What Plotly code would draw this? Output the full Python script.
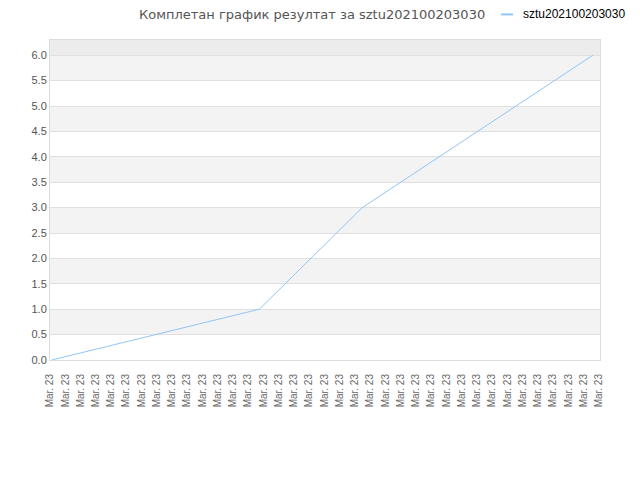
import plotly.graph_objects as go

# results over time (x in label-slot units)
point_x = [0.11, 13.73, 20.48, 35.6]
point_y = [0.0, 1.0, 3.0, 6.0]

tick_pos = list(range(37))
tick_text = ["Mar. 23"] * 37

series_name = "sztu202100203030"
title_text = "Комплетан график резултат за sztu202100203030"
line_color = "#90c6f6"

fig = go.Figure()

fig.add_trace(go.Scatter(
    x=point_x, y=point_y, mode="lines", name=series_name,
    line=dict(color=line_color, width=1), showlegend=False,
))

# alternating bands
band_starts = [0.5, 1.5, 2.5, 3.5, 4.5, 5.5]
for b in band_starts:
    fig.add_shape(type="rect", xref="paper", yref="y", x0=0, x1=1, y0=b, y1=b + 0.5,
                  fillcolor="#f3f3f3", line_width=0, layer="below")
fig.add_shape(type="rect", xref="paper", yref="y", x0=0, x1=1, y0=6.0, y1=6.3,
              fillcolor="#ececec", line_width=0, layer="below")

# small legend at top right (short line sample + name)
fig.add_shape(type="line", xref="paper", yref="paper", x0=0.82, x1=0.842,
              y0=1.08, y1=1.08, line=dict(color=line_color, width=2))
fig.add_annotation(text=series_name, xref="paper", yref="paper", x=0.856, y=1.08,
                   xanchor="left", yanchor="middle", showarrow=False,
                   font=dict(size=12, color="#000000"))

# page body adds an 8px offset, so everything is shifted back by 8px
fig.update_layout(
    width=640, height=480,
    margin=dict(l=42, r=48, t=32, b=128),
    paper_bgcolor="white", plot_bgcolor="white",
    font=dict(family="Liberation Sans", size=11, color="#555555"),
    title=dict(text=title_text, xref="container", x=131 / 640, xanchor="left",
               yref="container", y=1 - 6.5 / 480, yanchor="middle",
               font=dict(family="DejaVu Sans", size=13, color="#555555")),
    showlegend=False,
    xaxis=dict(range=[0, 36.07], tickmode="array", tickvals=tick_pos, ticktext=tick_text,
               tickangle=-90, showgrid=False, zeroline=False,
               showline=True, linecolor="#dddddd", mirror=True,
               ticks="outside", ticklen=9, tickcolor="rgba(0,0,0,0)",
               tickfont=dict(size=10, color="#666666")),
    yaxis=dict(range=[0, 6.3], dtick=0.5, tickformat=".1f", showgrid=True,
               gridcolor="#e0e0e0", zeroline=False,
               showline=True, linecolor="#dddddd", mirror=True,
               tickfont=dict(size=11)),
)

fig.write_html("out.html")
